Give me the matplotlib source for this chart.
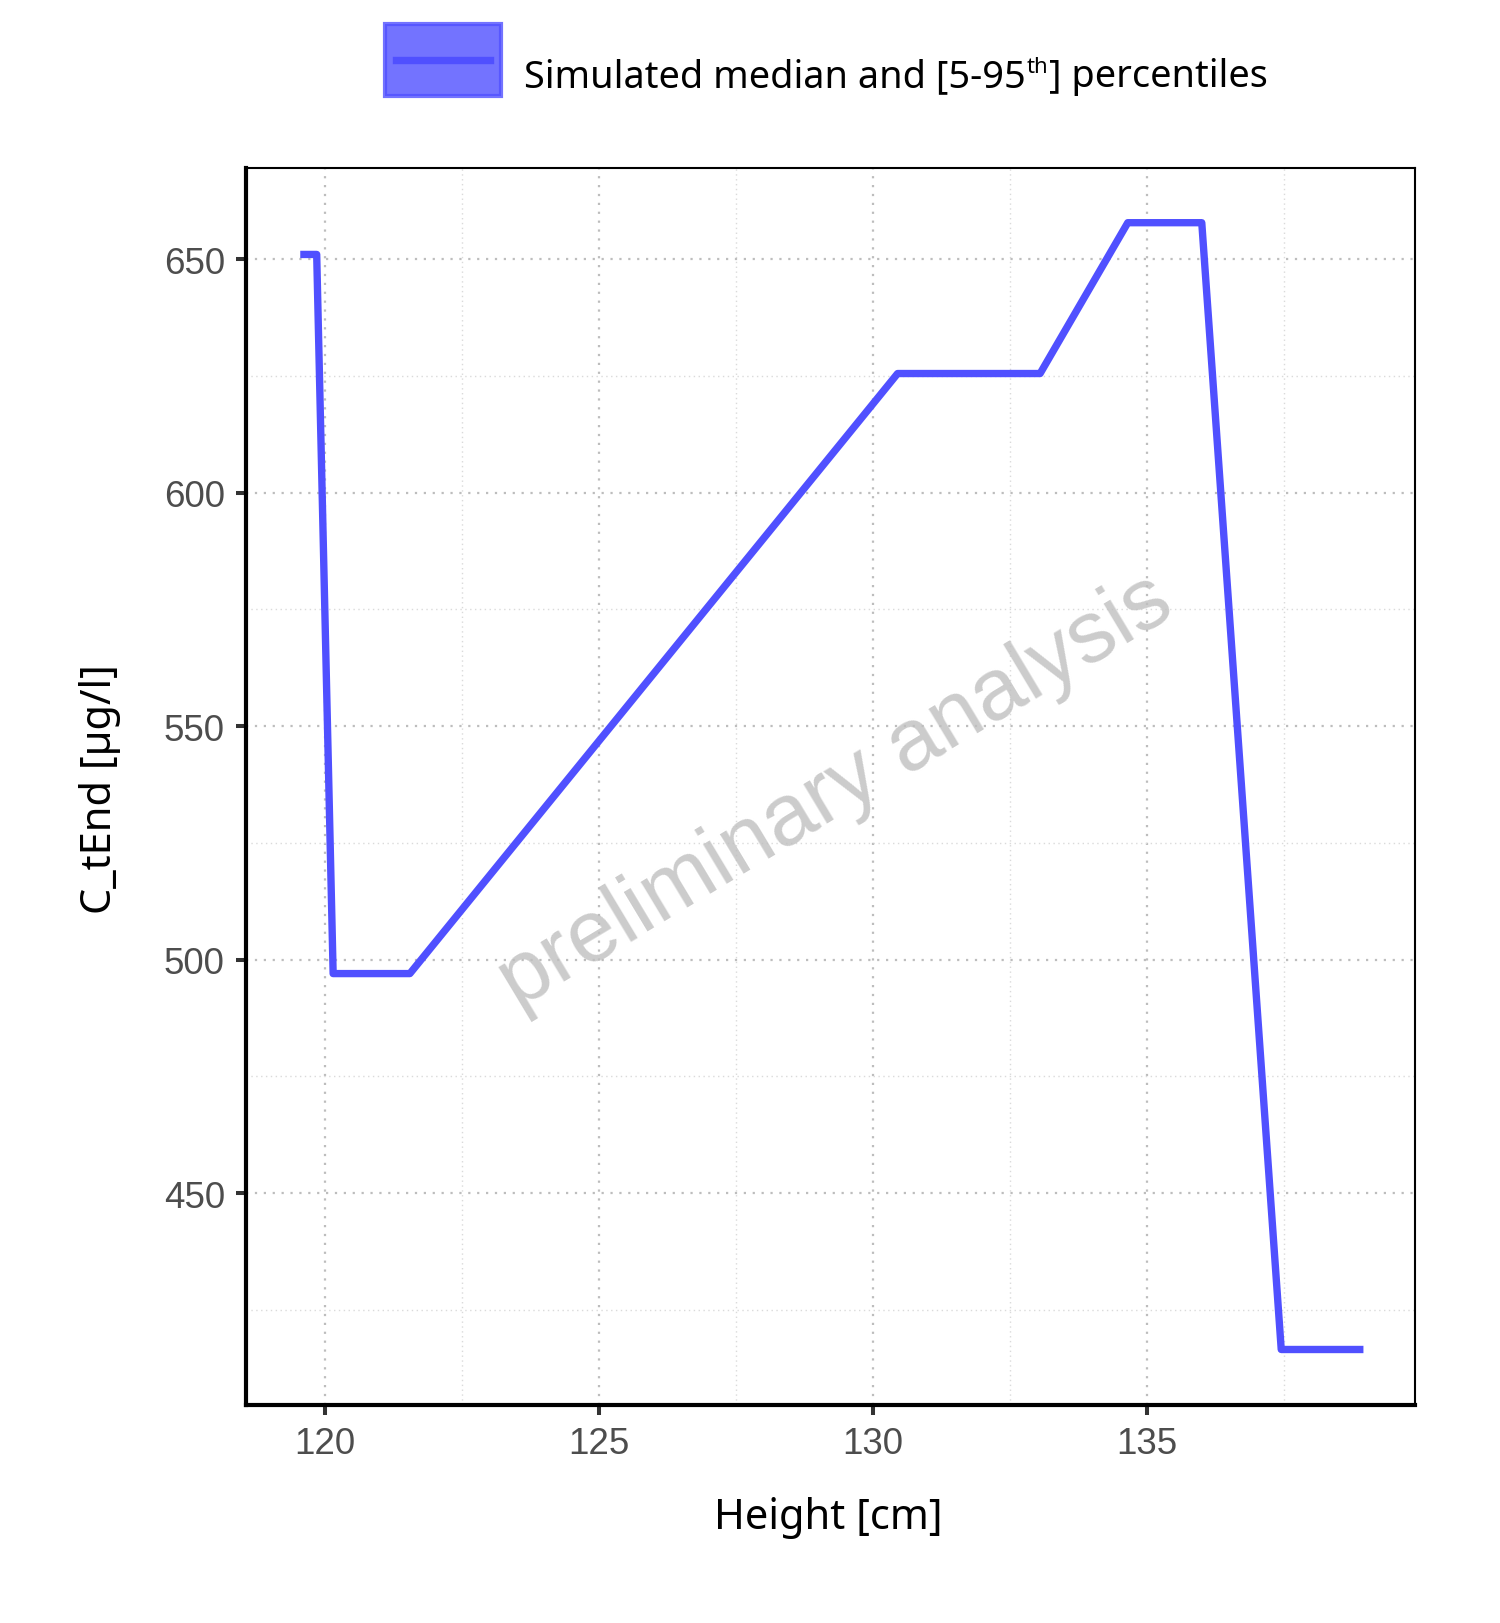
import numpy as np
import matplotlib
matplotlib.use("Agg")
import matplotlib.pyplot as plt
from matplotlib.patches import Rectangle
from matplotlib.lines import Line2D

# Simulated median curve
height_cm = [119.55, 119.85, 120.15, 121.55, 130.45, 133.05, 134.65, 136.0, 137.45, 138.95]
c_tend = [651.0, 651.0, 497.0, 497.0, 625.5, 625.5, 657.8, 657.8, 416.5, 416.5]

x_ticks = [120, 125, 130, 135]
y_ticks = [450, 500, 550, 600, 650]

line_color = "#5050FF"
label_font = "Noto Sans"
tick_font = "Liberation Sans"

fig = plt.figure(figsize=(15, 16.24), dpi=100)
ax = fig.add_axes([0.164, 0.1342, 0.7793, 0.7617])

ax.plot(height_cm, c_tend, color=line_color, linewidth=5.3,
        solid_joinstyle="round", solid_capstyle="butt", zorder=3)

ax.set_xlim(118.56, 139.89)
ax.set_ylim(404.6, 669.5)
ax.set_xticks(x_ticks)
ax.set_yticks(y_ticks)
ax.set_xticks([122.5, 127.5, 132.5, 137.5], minor=True)
ax.set_yticks([425, 475, 525, 575, 625], minor=True)

ax.grid(which="major", color="#BDBDBD", linestyle=(0, (1, 3)), linewidth=1.6)
ax.grid(which="minor", color="#DADADA", linestyle=(0, (1, 2.5)), linewidth=1.0)
ax.set_axisbelow(True)

for side in ["left", "bottom"]:
    ax.spines[side].set_linewidth(3.0)
for side in ["top", "right"]:
    ax.spines[side].set_linewidth(1.5)

ax.tick_params(which="major", length=7.2, width=2.9, color="#333333",
               labelsize=26.5, labelcolor="#4D4D4D", pad=8)
ax.tick_params(which="minor", length=0)
for lab in ax.get_xticklabels() + ax.get_yticklabels():
    lab.set_fontfamily(tick_font)

fig.text(0.552, 0.065, "Height [cm]", fontsize=30, family=label_font,
         ha="center", va="center")
fig.text(0.0667, 0.514, "C_tEnd [µg/l]", fontsize=30, family=label_font,
         rotation=90, ha="center", va="center")

# watermark
fig.text(0.557, 0.512, "preliminary analysis", fontsize=63, family=tick_font,
         color="#BFBFBF", alpha=0.8, rotation=31, ha="center", va="center")

# legend drawn at figure level
fig.patches.append(Rectangle((385 / 1500, 1 - 97 / 1624), 116 / 1500, 72 / 1624,
                             transform=fig.transFigure, facecolor=line_color,
                             alpha=0.8, edgecolor=line_color, linewidth=3))
fig.lines.append(Line2D([396 / 1500, 490 / 1500], [1 - 61 / 1624, 1 - 61 / 1624],
                        transform=fig.transFigure, color=line_color, linewidth=5.3))

# legend label with a small superscript, pieced together
leg_y = 1 - 87 / 1624
renderer = fig.canvas.get_renderer()
t1 = fig.text(524 / 1500, leg_y, "Simulated median and [5-95", fontsize=27.3,
              family=label_font, ha="left", va="baseline")
x1 = t1.get_window_extent(renderer).x1 / fig.bbox.width
t2 = fig.text(x1 + 1 / 1500, leg_y + 14 / 1624, "th", fontsize=16,
              family=label_font, ha="left", va="baseline")
x2 = t2.get_window_extent(renderer).x1 / fig.bbox.width
fig.text(x2 + 1 / 1500, leg_y, "] percentiles", fontsize=27.3,
         family=label_font, ha="left", va="baseline")

plt.savefig("out.png", dpi=100)
